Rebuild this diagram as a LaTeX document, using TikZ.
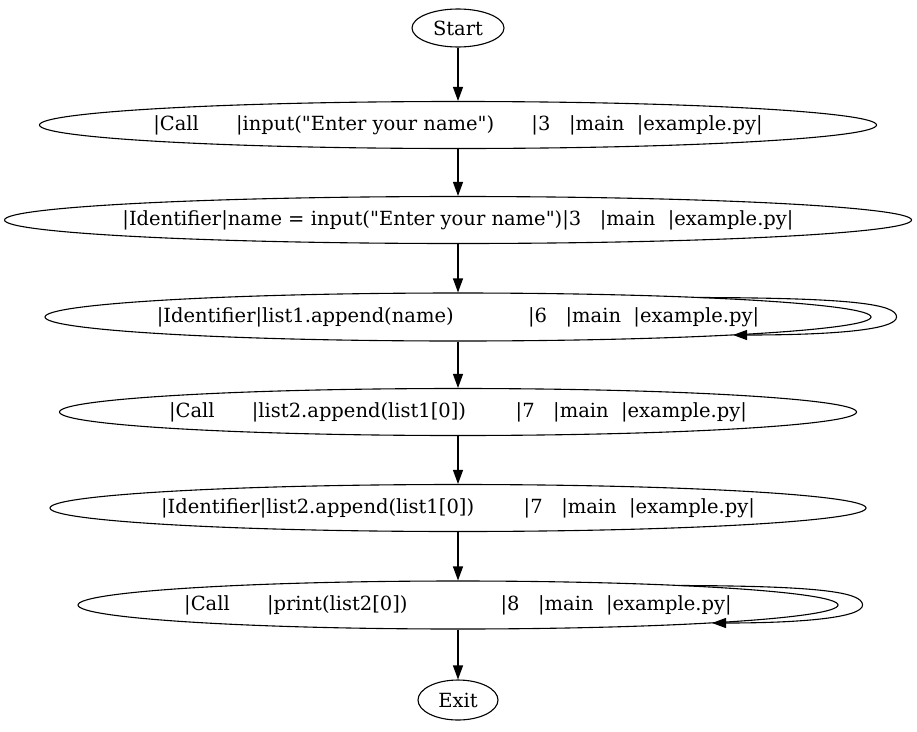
\documentclass[tikz,border=0pt]{standalone}
\usepackage{fontspec}
\setmainfont{DejaVu Serif}[Ligatures=TeXOff]
\usetikzlibrary{shapes.geometric,arrows.meta,calc}
\newcommand{\padsp}[1]{\hspace*{#1\fontdimen2\font}}
\newcommand{\dq}{\char34\relax}
\tikzset{
  blk/.style={draw, ellipse, line width=1.1pt, inner sep=0pt},
  edge/.style={line width=1.1pt, -{Triangle[length=14pt,width=10pt]}},
}
\begin{document}
\begin{tikzpicture}[x=1pt, y=-1pt, font=\fontsize{19.5}{22}\selectfont]
\useasboundingbox (0,0) rectangle (917,731);
\node[blk, minimum width=92, minimum height=38] (start) at (458,28) {Start};
\node[blk, minimum width=837, minimum height=47] (e1) at (458,125)
  {\makebox[0pt]{|Call\padsp{6}|input(\dq Enter your name\dq)\padsp{6}|3\padsp{3}|main\padsp{2}|example.py|}};
\node[blk, minimum width=907, minimum height=47] (e2) at (458,220)
  {\makebox[0pt]{|Identifier|name = input(\dq Enter your name\dq)|3\padsp{3}|main\padsp{2}|example.py|}};
\node[blk, minimum width=826, minimum height=48] (e3) at (458,317)
  {\makebox[0pt]{|Identifier|list1.append(name)\padsp{12}|6\padsp{3}|main\padsp{2}|example.py|}};
\node[blk, minimum width=797, minimum height=47] (e4) at (458,412)
  {\makebox[0pt]{|Call\padsp{6}|list2.append(list1[0])\padsp{8}|7\padsp{3}|main\padsp{2}|example.py|}};
\node[blk, minimum width=816, minimum height=47] (e5) at (458,508)
  {\makebox[0pt]{|Identifier|list2.append(list1[0])\padsp{8}|7\padsp{3}|main\padsp{2}|example.py|}};
\node[blk, minimum width=760, minimum height=48] (e6) at (458,605)
  {\makebox[0pt]{|Call\padsp{6}|print(list2[0])\padsp{15}|8\padsp{3}|main\padsp{2}|example.py|}};
\node[blk, minimum width=80, minimum height=40] (exit) at (458,700) {Exit};

\draw[edge] (start) -- (e1);
\draw[edge] (e1) -- (e2);
\draw[edge] (e2) -- (e3);
\draw[edge] (e3) -- (e4);
\draw[edge] (e4) -- (e5);
\draw[edge] (e5) -- (e6);
\draw[edge] (e6) -- (exit);

\draw[edge] ($(e3.center)+(242,-19.5)$)
  .. controls ($(e3.east)+(-20,-19)$) and ($(e3.east)+(25,-13)$) .. ($(e3.east)+(25,0)$)
  .. controls ($(e3.east)+(25,13)$) and ($(e3.east)+(-40,18)$) .. ($(e3.center)+(275,18)$);
\draw[edge] ($(e6.center)+(223,-19.5)$)
  .. controls ($(e6.east)+(-20,-19)$) and ($(e6.east)+(24,-13)$) .. ($(e6.east)+(24,0)$)
  .. controls ($(e6.east)+(24,13)$) and ($(e6.east)+(-40,18)$) .. ($(e6.center)+(254,18)$);
\end{tikzpicture}
\end{document}
